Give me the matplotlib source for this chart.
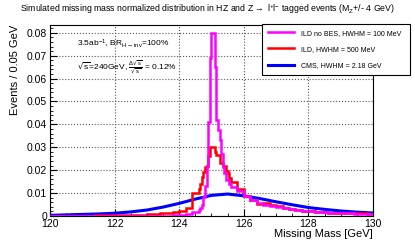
import numpy as np
import matplotlib.pyplot as plt
from matplotlib.ticker import MultipleLocator

plt.rcParams['font.family'] = ['Liberation Sans', 'DejaVu Sans']
plt.rcParams['mathtext.default'] = 'regular'

# bin edges: 0.2 GeV in the tails, 0.05 GeV around the peak
edges = np.concatenate([np.linspace(120.0, 124.4, 23),
                        np.linspace(124.6, 125.55, 20),
                        np.linspace(125.6, 130.0, 23)])

# ILD without beam energy spread
ild_nobes = [0.0001, 0.0001, 0.0001, 0.0001, 0.0001, 0.0001, 0.0001, 0.0001,
             0.0001, 0.0001, 0.0001, 0.0001, 0.0001, 0.0001, 0.0001, 0.0001,
             0.0001, 0.0001, 0.0002, 0.0003, 0.0005, 0.0008, 0.0017,
             0.0025, 0.0035, 0.005, 0.0085, 0.013, 0.022, 0.041, 0.069, 0.080, 0.080,
             0.065, 0.042, 0.0375, 0.033, 0.027, 0.0215, 0.0186, 0.0157, 0.0157, 0.0140,
             0.0128, 0.0108, 0.0086, 0.0070, 0.0058, 0.0050, 0.0044, 0.0039, 0.0034,
             0.0030, 0.0026, 0.0023, 0.0020, 0.0018, 0.0016, 0.0014, 0.0013, 0.0012,
             0.0011, 0.0010, 0.0009, 0.0009]

# ILD with beam energy spread
ild = [0.0001, 0.0001, 0.0001, 0.0002, 0.0002, 0.0002, 0.0002, 0.0003,
       0.0003, 0.0003, 0.0003, 0.0004, 0.0004, 0.0005, 0.0006, 0.0007,
       0.0009, 0.0011, 0.0013, 0.0016, 0.0022, 0.0035, 0.0100,
       0.012, 0.014, 0.017, 0.019, 0.0215, 0.022, 0.026, 0.030, 0.030, 0.030,
       0.028, 0.0265, 0.0265, 0.023, 0.023, 0.022, 0.022, 0.0195, 0.0188, 0.0166,
       0.0150, 0.0118, 0.0088, 0.0068, 0.0052, 0.0055, 0.0047, 0.0042, 0.0036,
       0.0031, 0.0028, 0.0023, 0.0020, 0.0019, 0.0017, 0.0015, 0.0014, 0.0013,
       0.0012, 0.0011, 0.0011, 0.0010]

# CMS
cms_mass = [120.0, 120.5, 121.0, 121.5, 122.0, 122.5, 123.0, 123.5, 124.0, 124.5,
            125.0, 125.5, 126.0, 126.5, 127.0, 127.5, 128.0, 128.5, 129.0, 129.5, 130.0]
cms = [0.0003, 0.0005, 0.0007, 0.0009, 0.0012, 0.0018, 0.0026, 0.0039, 0.0055, 0.0074,
       0.0090, 0.0096, 0.0088, 0.0076, 0.0062, 0.0049, 0.0037, 0.0029, 0.0022, 0.0017, 0.0013]

fig = plt.figure(figsize=(4.15, 2.41), dpi=100)
ax = fig.add_axes([50/415, 25/241, 323/415, 191/241])

ax.plot(cms_mass, cms, color='blue', lw=2.2, label='CMS, HWHM = 2.18 GeV', zorder=3)
ax.stairs(ild, edges, color='red', lw=1.8, label='ILD, HWHM = 500 MeV', zorder=4)
ax.stairs(ild_nobes, edges, color='magenta', lw=1.8, label='ILD no BES, HWHM = 100 MeV', zorder=5)

ax.set_xlim(120, 130)
ax.set_ylim(0, 0.0834)
ax.xaxis.set_major_locator(MultipleLocator(2))
ax.xaxis.set_minor_locator(MultipleLocator(0.5))
ax.yaxis.set_major_locator(MultipleLocator(0.01))
ax.yaxis.set_minor_locator(MultipleLocator(0.002))
ax.yaxis.set_major_formatter(plt.FuncFormatter(lambda v, p: '0' if v == 0 else '%.2f' % v))
ax.tick_params(which='both', direction='in', labelsize=7.5, pad=2, top=False, right=False)
ax.tick_params(which='major', length=5)
ax.tick_params(which='minor', length=2.5)
ax.grid(True, which='major', color='0.35', linestyle=':', lw=0.8)

ax.set_xlabel('Missing Mass [GeV]', fontsize=8, loc='right', labelpad=0)
ax.set_ylabel('Events / 0.05 GeV', fontsize=8, loc='top', labelpad=5)

fig.text(0.5, 1 - 9/241, r'Simulated missing mass normalized distribution in HZ and Z$\rightarrow$ l$^{+}$l$^{-}$ tagged events (M$_{Z}$+/- 4 GeV)',
         ha='center', va='center', fontsize=6.3)

ax.text(0.085, 0.9, r'3.5ab$^{-1}$, BR$_{H\rightarrow inv}$=100%', transform=ax.transAxes,
        fontsize=6, va='center')
ax.text(0.085, 0.78, r'$\sqrt{s}$=240GeV, $\frac{\Delta\sqrt{s}}{\sqrt{s}}$ = 0.12%', transform=ax.transAxes,
        fontsize=6, va='center')

handles, labels = ax.get_legend_handles_labels()
order = [2, 1, 0]
leg = ax.legend([handles[i] for i in order], [labels[i] for i in order],
                loc='upper left', bbox_to_anchor=(262/415, 1 - 79/241, 148/415, 55/241),
                bbox_transform=fig.transFigure, mode='expand', fontsize=5.0,
                fancybox=False, framealpha=1, edgecolor='black', borderaxespad=0,
                handlelength=3.8, handletextpad=1.0, labelspacing=1.35, borderpad=0.8)
leg.get_frame().set_linewidth(0.8)

fig.savefig('out.png', dpi=100)
